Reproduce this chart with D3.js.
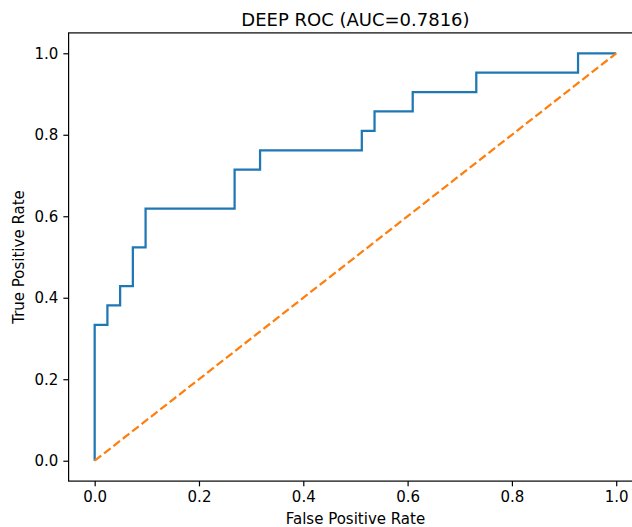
<!DOCTYPE html>
<html>
<head>
<meta charset="utf-8">
<script src="https://cdn.jsdelivr.net/npm/d3@7"></script>
<style>
  html, body { margin: 0; padding: 0; background: #ffffff; }
  svg { display: block; font-family: "DejaVu Sans", sans-serif; }
</style>
</head>
<body>
<svg id="chart" width="632" height="527"></svg>
<script>
// ROC curve vertices (false positive rate, true positive rate), step-after
const fpr = [0.0, 0.0, 0.0244, 0.0488, 0.0732, 0.0976, 0.2683, 0.3171, 0.5122, 0.5366, 0.6098, 0.7317, 0.9268, 1.0];
const tpr = [0.0, 0.3333, 0.3810, 0.4286, 0.5238, 0.6190, 0.7143, 0.7619, 0.8095, 0.8571, 0.9048, 0.9524, 1.0, 1.0];
// chance diagonal
const chanceX = [0, 1];
const chanceY = [0, 1];
const xTicks = [0.0, 0.2, 0.4, 0.6, 0.8, 1.0];
const yTicks = [0.0, 0.2, 0.4, 0.6, 0.8, 1.0];
const auc = 0.7816;
const titleText = "DEEP ROC (AUC=" + auc.toFixed(4) + ")";
const xLabel = "False Positive Rate";
const yLabel = "True Positive Rate";

const svg = d3.select("#chart");
const plot = { left: 68.6, right: 642.3, top: 32.9, bottom: 481.1 };

const x = d3.scaleLinear().domain([-0.05, 1.05]).range([plot.left, plot.right]);
const y = d3.scaleLinear().domain([-0.05, 1.05]).range([plot.bottom, plot.top]);

const tickLen = 5.25, tickPad = 5.0, tickW = 1.2;

// ROC step line
const roc = fpr.map((v, i) => [v, tpr[i]]);
const stepLine = d3.line().x(d => x(d[0])).y(d => y(d[1])).curve(d3.curveStepAfter);
svg.append("path")
  .datum(roc)
  .attr("d", stepLine)
  .attr("fill", "none")
  .attr("stroke", "#1f77b4")
  .attr("stroke-width", 2.25)
  .attr("stroke-linejoin", "miter")
  .attr("stroke-linecap", "butt");

// Chance line
const chance = chanceX.map((v, i) => [v, chanceY[i]]);
svg.append("path")
  .datum(chance)
  .attr("d", d3.line().x(d => x(d[0])).y(d => y(d[1])))
  .attr("fill", "none")
  .attr("stroke", "#ff7f0e")
  .attr("stroke-width", 2.25)
  .attr("stroke-dasharray", "8.3,3.6");

// Axes
const xAxis = d3.axisBottom(x).tickValues(xTicks).tickFormat(d3.format(".1f"))
  .tickSize(tickLen).tickPadding(tickPad);
const yAxis = d3.axisLeft(y).tickValues(yTicks).tickFormat(d3.format(".1f"))
  .tickSize(tickLen).tickPadding(tickPad);

const gx = svg.append("g").attr("transform", `translate(0,${plot.bottom})`).call(xAxis);
const gy = svg.append("g").attr("transform", `translate(${plot.left},0)`).call(yAxis);
[gx, gy].forEach(g => {
  g.select(".domain").remove();
  g.selectAll(".tick line").attr("stroke", "#000").attr("stroke-width", tickW);
  g.selectAll(".tick text").attr("fill", "#000").style("font-size", "15px")
    .style("font-family", "'DejaVu Sans', sans-serif");
});

// Spines
svg.append("rect")
  .attr("x", plot.left).attr("y", plot.top)
  .attr("width", plot.right - plot.left).attr("height", plot.bottom - plot.top)
  .attr("fill", "none").attr("stroke", "#000").attr("stroke-width", 1.2);

// Title and axis labels
const cx = (plot.left + plot.right) / 2;
svg.append("text")
  .attr("x", cx).attr("y", 26)
  .attr("text-anchor", "middle")
  .style("font-size", "18px")
  .attr("fill", "#000")
  .text(titleText);

svg.append("text")
  .attr("x", cx).attr("y", 524)
  .attr("text-anchor", "middle")
  .style("font-size", "15px")
  .attr("fill", "#000")
  .text(xLabel);

svg.append("text")
  .attr("transform", `translate(24,${(plot.top + plot.bottom) / 2}) rotate(-90)`)
  .attr("text-anchor", "middle")
  .style("font-size", "15px")
  .attr("fill", "#000")
  .text(yLabel);
</script>
</body>
</html>
